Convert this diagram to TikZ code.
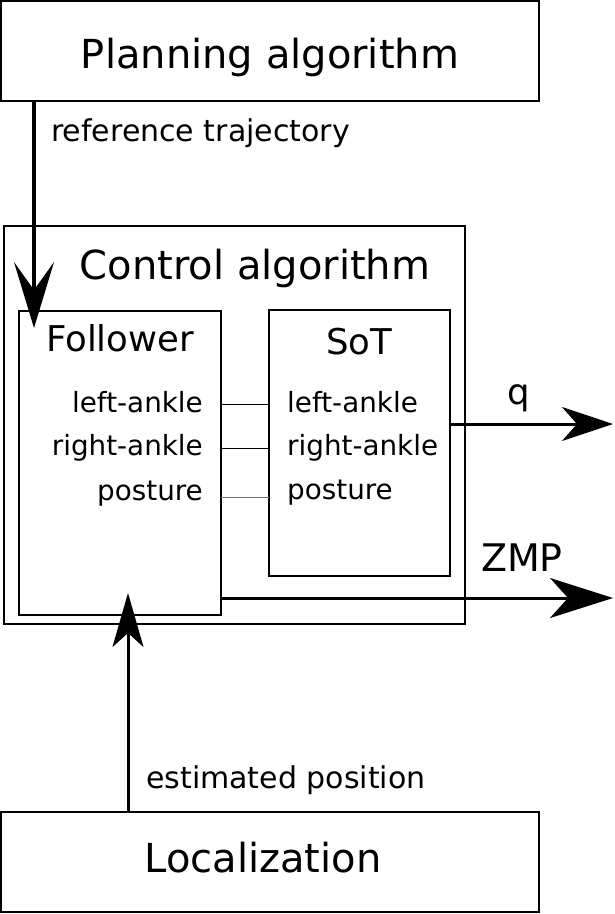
\documentclass[tikz,border=0pt]{standalone}
\usepackage{fontspec}
\setmainfont{DejaVu Sans}
\usetikzlibrary{arrows.meta}
\tikzset{
  box/.style={draw, line width=1.5pt, inner sep=0pt, outer sep=0pt},
  bigtxt/.style={font=\fontsize{40pt}{48pt}\selectfont, inner sep=0pt},
  midtxt/.style={font=\fontsize{35.5pt}{42pt}\selectfont, inner sep=0pt},
  annot/.style={font=\fontsize{30pt}{36pt}\selectfont, inner sep=0pt},
  lbl/.style={font=\fontsize{27.8pt}{33pt}\selectfont, inner sep=0pt},
  flow/.style={line width=3pt},
  link/.style={line width=0.9pt},
}
\begin{document}
\begin{tikzpicture}[x=1pt,y=-1pt]
\useasboundingbox (0,0) rectangle (614,914);
% boxes
\node[box, line width=2pt, minimum width=538pt, minimum height=100pt] (plan) at (270,51) {};
\node[box, minimum width=461pt, minimum height=398pt] (ctrl) at (234.5,425) {};
\node[box, minimum width=202pt, minimum height=304pt] (fol) at (120,463) {};
\node[box, minimum width=181pt, minimum height=266pt] (sot) at (359.5,443) {};
\node[box, line width=2pt, minimum width=538pt, minimum height=100pt] (loc) at (270,862) {};
% titles
\node[bigtxt, anchor=base] (plant) at (270,68) {Planning algorithm};
\node[bigtxt, anchor=base] (ctrlt) at (255,279) {Control algorithm};
\node[bigtxt, anchor=base] (loct) at (263,872) {Localization};
\node[midtxt, anchor=base] (folt) at (120,351) {Follower};
\node[midtxt, anchor=base] (sott) at (359,354) {SoT};
% annotations
\node[annot, anchor=base west] (reft) at (51,141) {reference trajectory};
\node[annot, anchor=base west] (estt) at (146,788) {estimated position};
\node[midtxt, anchor=base] (qt) at (519,404) {q};
\node[font=\fontsize{38pt}{45pt}\selectfont, inner sep=0pt, anchor=base] (zmpt) at (522,571) {ZMP};
% follower labels
\node[lbl, anchor=base east] (fl1) at (203,412) {left-ankle};
\node[lbl, anchor=base east] (fl2) at (203,455) {right-ankle};
\node[lbl, anchor=base east] (fl3) at (203,500) {posture};
% SoT labels
\node[lbl, anchor=base west] (sl1) at (287,412) {left-ankle};
\node[lbl, anchor=base west] (sl2) at (287,455) {right-ankle};
\node[lbl, anchor=base west] (sl3) at (287,499) {posture};
% link lines
\coordinate (y1) at (0,404);
\coordinate (y2) at (0,448);
\coordinate (y3) at (0,497);
\draw[link] (fol.east |- y1) -- (sot.west |- y1);
\draw[link] (fol.east |- y2) -- (sot.west |- y2);
\draw[link, draw=black!55] (fol.east |- y3) -- (sot.west |- y3);
% arrows
\coordinate (reftip) at (34,328);
\coordinate (loctip) at (128,593);
\coordinate (qtip) at (613,424);
\coordinate (zmptip) at (613,598);
\draw[line width=4pt, -{Stealth[length=66pt, width=40pt, inset=28pt]}] (plan.south -| reftip) -- (reftip);
\draw[flow, -{Stealth[length=54pt, width=31pt, inset=14pt]}] (loc.north -| loctip) -- (loctip);
\draw[flow, -{Stealth[length=51pt, width=34pt, inset=15pt]}] (sot.east |- qtip) -- (qtip);
\draw[flow, -{Stealth[length=63pt, width=40pt, inset=18pt]}] (fol.east |- zmptip) -- (zmptip);
\end{tikzpicture}
\end{document}
